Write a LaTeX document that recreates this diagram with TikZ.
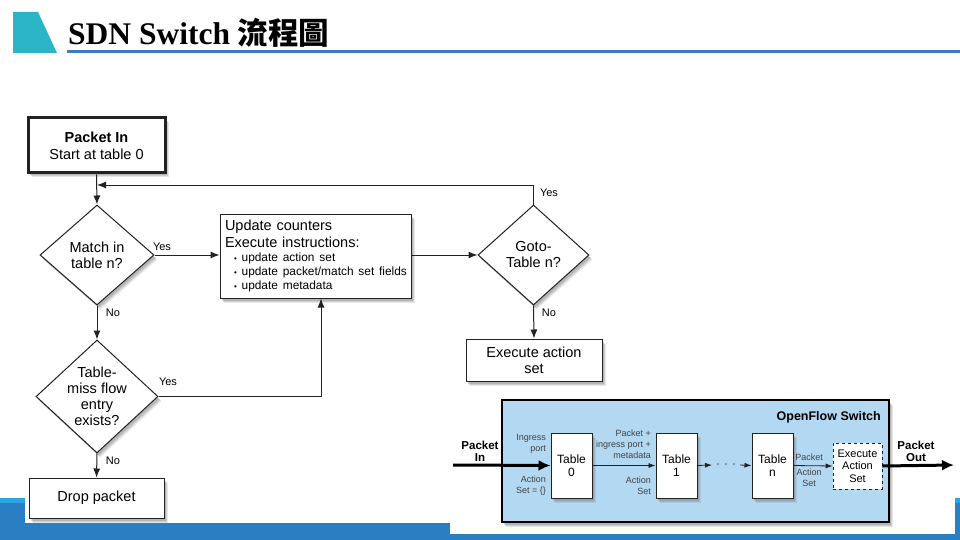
\documentclass[tikz,border=0pt]{standalone}
\usepackage{fontspec}
\setmainfont{Liberation Sans}
\newfontfamily\titlefont{Liberation Serif}
\newfontfamily\cjk{Noto Sans CJK TC}
\usetikzlibrary{arrows.meta,shapes.geometric,shadows,calc}
\definecolor{teal1}{HTML}{2BB5C6}
\definecolor{uline}{HTML}{3D7EB8}
\definecolor{banddark}{HTML}{2A7FC3}
\definecolor{bandlight}{HTML}{2BA6E0}
\definecolor{swfill}{HTML}{B2D8F2}
\definecolor{ink}{HTML}{222222}
\tikzset{
  shad/.style={drop shadow={opacity=0.18,shadow xshift=3.5pt,shadow yshift=-4.5pt},
               drop shadow={opacity=0.25,shadow xshift=2.5pt,shadow yshift=-3.5pt},
               drop shadow={opacity=0.3,shadow xshift=1.5pt,shadow yshift=-2.5pt}},
  fbox/.style={draw=ink,line width=1pt,fill=white,shad,align=center,inner sep=3pt,
    font=\fontsize{14.5}{17}\selectfont},
  dmd/.style={diamond,draw=ink,line width=1pt,fill=white,shad,inner sep=0pt},
  dtext/.style={align=center,font=\fontsize{14.5}{16}\selectfont},
  arr/.style={draw=ink,line width=1pt,-{Latex[length=9pt,width=7pt]}},
  lbl/.style={font=\fontsize{11}{12}\selectfont,inner sep=0pt},
  tbl/.style={draw=ink,line width=1pt,fill=white,shad,minimum width=41pt,minimum height=65pt,
    align=center,inner sep=0pt,font=\fontsize{12}{13.5}\selectfont},
  small/.style={align=right,inner sep=0pt,text=ink!85,font=\fontsize{9}{11}\selectfont},
  thickarr/.style={draw=black,line width=3pt,-{Latex[length=12pt,width=11pt]}},
  tarr/.style={draw=ink,line width=0.8pt,-{Latex[length=7pt,width=5pt]}},
}
\newcommand{\bul}[1]{\mbox{\hspace*{9pt}{\fontsize{8}{8}\selectfont\textbullet}\ #1}}
\begin{document}
\begin{tikzpicture}[x=1pt,y=-1pt]
\useasboundingbox (0,0) rectangle (960,540);
\fill[white] (0,0) rectangle (960,540);
% title
\fill[teal1] (13,12) -- (38,12) -- (57,53) -- (13,53) -- cycle;
\node[anchor=base west,inner sep=0pt,font=\bfseries] (title) at (68,45)
  {\fontsize{31.5}{32}\titlefont\selectfont SDN Switch \fontsize{30.5}{32}\cjk\selectfont 流程圖};
\draw[uline,line width=3pt] (67,51.5) -- (960,51.5);
% bottom band
\fill[banddark] (0,498) rectangle (960,540);
\fill[bandlight] (0,498) rectangle (960,503);
\fill[white] (25,480) rectangle (450,523);
\fill[white] (450,390) rectangle (955,534);

% flowchart
\node[fbox,line width=3pt,minimum width=137pt,minimum height=55pt] (pin) at (96.5,145.5)
  {\textbf{Packet In}\\Start at table 0};
\node[dmd,minimum width=114pt,minimum height=100pt] (match) at (97,255) {};
\node[dtext] (matcht) at (match.center) {Match in\\table n?};
\node[fbox,text width=181pt,align=left,minimum height=84pt,inner sep=5pt] (upd) at (315.5,256)
  {\raggedright Update counters\\Execute instructions:\par
   {\fontsize{11.9}{14}\selectfont\raggedright
    \bul{update action set}\\
    \bul{update packet/match set fields}\\
    \bul{update metadata}\par}};
\node[dmd,minimum width=111pt,minimum height=100pt] (goto) at (533.5,255) {};
\node[dtext] (gotot) at (goto.center) {Goto-\\Table n?};
\node[fbox,minimum width=136pt,minimum height=42pt,font=\fontsize{14.5}{16}\selectfont] (exec) at (534,360)
  {Execute action\\set};
\node[dmd,minimum width=122pt,minimum height=113pt] (miss) at (97,396.5) {};
\node[dtext] (misst) at (miss.center) {Table-\\miss flow\\entry\\exists?};
\node[fbox,minimum width=135pt,minimum height=40pt] (drop) at (96.5,498) {Drop packet};

\coordinate (loop) at (97,185);
\draw[arr] (pin.south) -- (match.north);
\draw[arr] (goto.north) |- (loop);
\draw[arr] (match.east) -- (match.east -| upd.west);
\draw[arr] (upd.east |- goto.west) -- (goto.west);
\draw[arr] (goto.south) -- (exec.north);
\draw[arr] (match.south) -- (miss.north);
\draw[arr] (miss.east) -| ([xshift=5.5pt]upd.south);
\draw[arr] (miss.south) -- (drop.north);

\node[lbl] (y1) at (162,247) {Yes};
\node[lbl] (y2) at (549,193) {Yes};
\node[lbl] (n2) at (549,313) {No};
\node[lbl] (n1) at (113,313) {No};
\node[lbl] (y3) at (168,382) {Yes};
\node[lbl] (n3) at (113,461) {No};

% OpenFlow switch
\node[draw=black,line width=1.5pt,fill=swfill,shad,minimum width=387pt,minimum height=122pt,inner sep=0pt]
  (sw) at (695.5,461) {};
\node[anchor=east,inner sep=0pt,font=\fontsize{12.5}{13}\selectfont\bfseries] (swt) at (881,417) {OpenFlow Switch};
\node[tbl] (t0) at (571.5,465.5) {Table\\0};
\node[tbl] (t1) at (676.5,465.5) {Table\\1};
\node[tbl] (tn) at (772.5,465.5) {Table\\n};
\node[draw=ink,dashed,line width=0.8pt,fill=white,minimum width=49pt,minimum height=46pt,inner sep=0pt,
  align=center,font=\fontsize{11}{12.5}\selectfont] (ex) at (857.5,466) {Execute\\Action\\Set};
\node[align=center,inner sep=0pt,font=\fontsize{11.5}{12}\selectfont\bfseries] (pinl) at (480,451) {Packet\\In};
\node[align=center,inner sep=0pt,font=\fontsize{11.5}{12}\selectfont\bfseries] (poutl) at (916,451) {Packet\\Out};
\coordinate (inS) at (453,465);
\coordinate (outE) at (954,465);
\draw[thickarr] (inS) -- (t0.west);
\draw[thickarr] (ex.east) -- (outE);
\draw[tarr] (t0.east) -- (t1.west);
\coordinate (d1) at (712,465);
\coordinate (d2) at (740,465);
\draw[tarr] (t1.east) -- (d1);
\node[inner sep=0pt,font=\fontsize{13}{13}\selectfont\bfseries] (dots) at (726,465) {$\cdot\,\cdot\,\cdot$};
\draw[tarr] (d2) -- (tn.west);
\draw[tarr] (tn.east) -- (ex.west);
\node[small,anchor=east] (ing) at (546,444) {Ingress\\port};
\node[small,anchor=east] (as0) at (546,485.5) {Action\\Set = \{\}};
\node[small,anchor=east] (pkt1) at (651,444) {Packet +\\ingress port +\\metadata};
\node[small,anchor=east] (as1) at (651,486) {Action\\Set};
\node[small,align=center] (pktn) at (809,457) {Packet};
\node[small,align=center] (asn) at (809,478) {Action\\Set};
\end{tikzpicture}
\end{document}
